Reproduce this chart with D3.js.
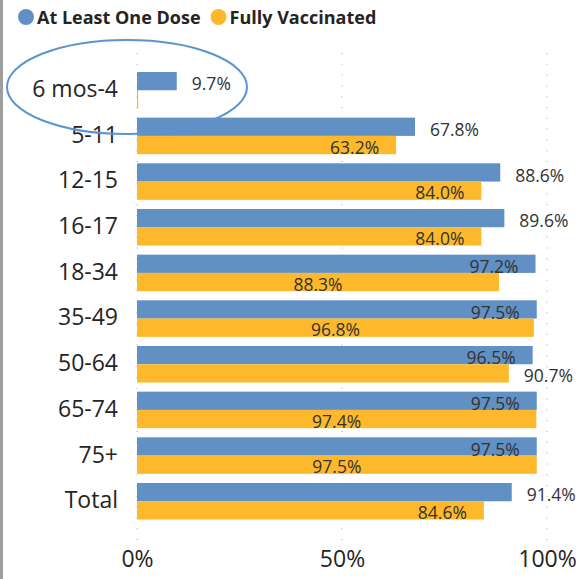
<!DOCTYPE html>
<html>
<head>
<meta charset="utf-8">
<script src="https://cdn.jsdelivr.net/npm/d3@7"></script>
<style>
  body { margin: 0; background: #fff; }
  text { font-family: "Segoe UI", "Open Sans", sans-serif; }
</style>
</head>
<body>
<div id="chart"></div>
<script>
// vaccination coverage by age group
let categories = ["6 mos-4", "5-11", "12-15", "16-17", "18-34", "35-49", "50-64", "65-74", "75+", "Total"];
let atLeastOneDose = [9.7, 67.8, 88.6, 89.6, 97.2, 97.5, 96.5, 97.5, 97.5, 91.4];
let fullyVaccinated = [0.3, 63.2, 84.0, 84.0, 88.3, 96.8, 90.7, 97.4, 97.5, 84.6];
let seriesNames = ["At Least One Dose", "Fully Vaccinated"];
let seriesColors = ["#6190c4", "#fdb92b"];
let xTicks = [0, 50, 100];

let svgWidth = 580;
let svgHeight = 579;

let svg = d3.select("#chart")
  .append("svg")
  .attr("width", svgWidth)
  .attr("height", svgHeight);

// gray frame edge on the left
svg.append("rect")
  .attr("x", 0).attr("y", 0)
  .attr("width", 3).attr("height", svgHeight)
  .attr("fill", "#9d9d9d");

let xScale = d3.scaleLinear()
  .domain([0, 100])
  .range([137, 547]);

let yScale = d3.scaleBand()
  .domain(categories)
  .range([67.4, 524.1])
  .paddingInner(0.2)
  .paddingOuter(0.1);

let subScale = d3.scaleBand()
  .domain(seriesNames)
  .range([0, yScale.bandwidth()]);

// dotted gridlines
svg.append("g")
  .selectAll("line")
  .data(xTicks)
  .enter()
  .append("line")
  .attr("x1", d => xScale(d))
  .attr("x2", d => xScale(d))
  .attr("y1", 53)
  .attr("y2", 546)
  .attr("stroke", "#c6c6c6")
  .attr("stroke-width", 1.5)
  .attr("stroke-dasharray", "1,9.8");

// x axis labels
let xAxis = svg.append("g")
  .attr("transform", "translate(0,551)")
  .call(d3.axisBottom(xScale).tickValues(xTicks).tickSize(0).tickFormat(d => d + "%"));
xAxis.select(".domain").remove();
xAxis.selectAll("text")
  .attr("font-family", '"Segoe UI", "Open Sans", sans-serif')
  .attr("font-size", "23px")
  .attr("fill", "#252423")
  .attr("dy", "0.71em")
  .attr("y", 0);

// category labels
let yAxis = svg.append("g")
  .attr("transform", "translate(118,0)")
  .call(d3.axisLeft(yScale).tickSize(0).tickPadding(0));
yAxis.select(".domain").remove();
yAxis.selectAll("text")
  .attr("font-family", '"Segoe UI", "Open Sans", sans-serif')
  .attr("font-size", "23px")
  .attr("fill", "#252423")
  .attr("dy", "0.3em");

let rows = categories.map((c, i) => ({ cat: c, values: [atLeastOneDose[i], fullyVaccinated[i]] }));

let groups = svg.append("g")
  .selectAll("g")
  .data(rows)
  .enter()
  .append("g")
  .attr("transform", d => `translate(0,${yScale(d.cat)})`);

groups.selectAll("rect")
  .data(d => d.values.map((v, j) => ({ name: seriesNames[j], value: v, j: j })))
  .enter()
  .append("rect")
  .attr("x", xScale(0))
  .attr("y", d => subScale(d.name))
  .attr("width", d => xScale(d.value) - xScale(0))
  .attr("height", subScale.bandwidth())
  .attr("fill", d => seriesColors[d.j]);

// data labels, placed like the auto position: try spots in order, skip collisions
let labelSize = 17.5;
let labelLayer = svg.append("g");

function overlaps(a, b, pad) {
  return a.x < b.x2 + pad && a.x2 + pad > b.x && a.y < b.y2 + pad && a.y2 + pad > b.y;
}

function placeLabel(value, yBottom, order, avoid) {
  let x0 = xScale(0);
  let x1 = xScale(value);
  let t = labelLayer.append("text")
    .attr("font-size", labelSize + "px")
    .attr("fill", "#333")
    .attr("y", yBottom)
    .text(value.toFixed(1) + "%");
  let w = t.node().getComputedTextLength();
  for (let pos of order) {
    let left;
    if (pos === "outside") {
      left = x1 + 15;
      if (left + w > svgWidth - 1) continue;
    } else if (pos === "insideEnd") {
      left = x1 - 17 - w;
      if (left < x0 + 3) continue;
    } else {
      left = (x0 + x1) / 2 - w / 2;
      if (w > x1 - x0 - 6) continue;
    }
    let box = { x: left, x2: left + w, y: yBottom - labelSize * 0.9, y2: yBottom + labelSize * 0.25 };
    if (avoid && overlaps(box, avoid, 3)) continue;
    t.attr("x", left);
    return box;
  }
  t.remove();
  return null;
}

rows.forEach(function(d) {
  let top = yScale(d.cat);
  let blueBottom = top + subScale(seriesNames[0]) + subScale.bandwidth();
  let orangeBottom = top + subScale(seriesNames[1]) + subScale.bandwidth();
  let blueBox = placeLabel(d.values[0], blueBottom, ["outside", "insideEnd"], null);
  placeLabel(d.values[1], orangeBottom - 0.5, ["insideEnd", "outside", "insideCenter"], blueBox);
});

// legend
let legend = svg.append("g").attr("transform", "translate(0,17)");
let lx = 26;
seriesNames.forEach(function(name, i) {
  legend.append("circle")
    .attr("cx", lx).attr("cy", 0).attr("r", 8)
    .attr("fill", seriesColors[i]);
  let t = legend.append("text")
    .attr("x", lx + 11)
    .attr("y", 6.5)
    .attr("font-size", "18px")
    .attr("font-weight", "bold")
    .attr("fill", "#252423")
    .text(name);
  lx += 11 + t.node().getComputedTextLength() + 18;
});

// callout ellipse around the youngest group
svg.append("ellipse")
  .attr("cx", 127)
  .attr("cy", 87)
  .attr("rx", 120)
  .attr("ry", 47)
  .attr("fill", "none")
  .attr("stroke", "#5a95d0")
  .attr("stroke-width", 2);
</script>
</body>
</html>
